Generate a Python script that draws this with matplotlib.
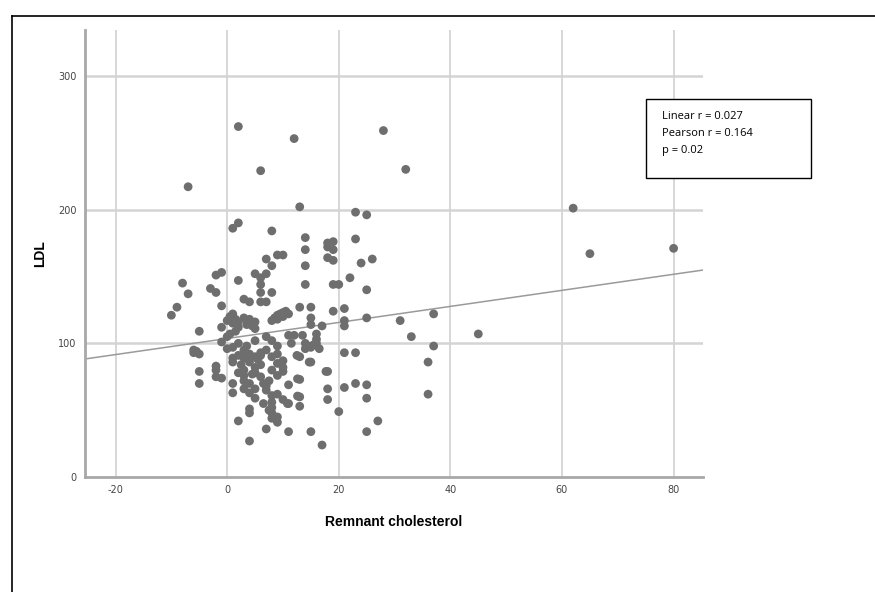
import matplotlib.pyplot as plt
from matplotlib.lines import Line2D
from matplotlib.patches import Rectangle

plt.rcParams['axes.unicode_minus'] = False

# Remnant cholesterol (x) and LDL (y)
remnant = [2, 12, 28, 6, 32, -7, 13, 62, 23, 25,
           2, 1, 8, 14, 23, 18, 19, 14, 18, 19,
           65, 80, 9, 10, 7, 18, 19, 26, 24, 14,
           8, 5, 7, 6, -2, -1, 2, -8, 22, 14,
           19, 20, 6, 6, -3, -2, -7, 8, 25, 3,
           4, 6, 7, -9, -1, 13, 15, 21, -10,
           0, 0.5, 1, 1, 1.5, 2, 2, 3, 3.5, 4, 5, 5, 0.5, 1.5, 4.5,
           8, 8.5, 9, 9.5, 10, 10.5, 11, 9, 10,
           15, 19, 25, 37, 21, 21, 31, 15, 16, 17, -1, -5, 33, 45, 11, 12, -1, 0, 5, 7, 8, 9,
           14, 14.5, 15, 15.5, 16, 16, 14, 13.5,
           37, -6, -5, -5.5, 1, 2, 3, 1, 5, 6, 6, 5.5,
           9, 10, 9, 10, 8,
           13, 21, 23, 36, 15, -2, -2, 1, -5, 18, 5, 5, 2, 3, 8, 9, 10,
           -1, -2, -5, 1, 3, 4, 5, 13, 11, 23, 25, 18, 21, 1, 3, 4, 5,
           7, 8, 9, 10, 11, 13, 13, 18, 25, 36,
           4, 4, 8, 9, 8, 9, 20, 2, 27, 7, 11, 15, 25, 4, 17,
           2, 3, 4, 2.5, 3, 4.5, 6, 6.5, 7, 7.5, 8, 8, 7.5, 6.5, 12.5, 14.7, 17.7, 12.6, 10.8, 12.6,
           -6, 0, 4, 7, 11.5, 16.5, 3.5, 6]
ldl = [262, 253, 259, 229, 230, 217, 202, 201, 198, 196,
       190, 186, 184, 179, 178, 175, 176, 170, 172, 170,
       167, 171, 166, 166, 163, 164, 162, 163, 160, 158,
       158, 152, 152, 149, 151, 153, 147, 145, 149, 144,
       144, 144, 144, 138, 141, 138, 137, 138, 140, 133,
       131, 131, 131, 127, 128, 127, 127, 126, 121,
       117, 120, 122, 115, 118, 116, 112, 119, 114, 118, 116, 111, 107, 109, 113,
       117, 119, 121, 122, 123, 124, 122, 118, 120,
       119, 124, 119, 122, 117, 113, 117, 114, 107, 113, 112, 109, 105, 107, 106, 106, 101, 105, 102, 105, 102, 98,
       96, 98, 97, 99, 100, 103, 100, 106,
       98, 93, 92, 94, 97, 91, 89, 89, 90, 91, 93, 88,
       92, 87, 85, 82, 90,
       90, 93, 93, 86, 86, 83, 80, 86, 79, 79, 82, 78, 78, 76, 80, 76, 79,
       74, 75, 70, 70, 72, 70, 66, 73, 69, 70, 69, 66, 67, 63, 66, 63, 59,
       65, 61, 62, 58, 55, 60, 53, 58, 59, 62,
       51, 48, 48, 45, 44, 41, 49, 42, 42, 36, 34, 34, 34, 27, 24,
       100, 95, 92, 84, 80, 77, 75, 70, 68, 72, 56, 52, 50, 55, 91, 86, 79, 73.5, 55, 60.6,
       95, 96, 86, 95, 100, 96, 98, 84]

# fit line as drawn in the picture
fit_intercept = 103.6
fit_slope = 0.6
x_range = [-25.5, 85.2]

x_ticks = [-20, 0, 20, 40, 60, 80]
y_ticks = [0, 100, 200, 300]
stats_text = ["Linear r = 0.027", "Pearson r = 0.164", "p = 0.02"]

fig = plt.figure(figsize=(8.75, 5.92), dpi=100)
ax = fig.add_axes([0.097, 0.194, 0.706, 0.755])

# grid
for t in x_ticks:
    ax.axvline(t, color='#d4d4d4', lw=1.3, zorder=0)
for t in y_ticks[1:]:
    ax.axhline(t, color='#d4d4d4', lw=1.8, zorder=0)

ax.scatter(remnant, ldl, s=40, color='#6e6e6e', edgecolors='none', zorder=3)

fit_y = [fit_intercept + fit_slope * x for x in x_range]
ax.plot(x_range, fit_y, color='#9a9a9a', lw=1.1, zorder=2)

ax.set_xlim(x_range)
ax.set_ylim(0, 334)
ax.set_xticks(x_ticks)
ax.set_yticks(y_ticks)
ax.tick_params(length=0, labelsize=7, colors='#444444', pad=6)
for s in ['top', 'right']:
    ax.spines[s].set_visible(False)
for s in ['left', 'bottom']:
    ax.spines[s].set_color('#a8a8a8')
    ax.spines[s].set_linewidth(2)

ax.set_xlabel("Remnant cholesterol", fontsize=10, fontweight='bold',
              family='Liberation Sans', labelpad=14)
ax.set_ylabel("LDL", fontsize=10, fontweight='bold', family='Liberation Sans', labelpad=8)

# stats box
fig.patches.append(Rectangle((0.738, 0.699), 0.189, 0.134, transform=fig.transFigure,
                             fill=True, facecolor='white', edgecolor='black', lw=1))
for i, line in enumerate(stats_text):
    fig.text(0.756, 0.803 - i * 0.0285, line, fontsize=8, family='Open Sans',
             va='center', ha='left')

# outer frame lines
fig.add_artist(Line2D([0.0137, 0.0137], [0, 0.973], color='black', lw=1.2))
fig.add_artist(Line2D([0.0137, 1], [0.973, 0.973], color='black', lw=1.2))

fig.savefig('out.png', dpi=100)
